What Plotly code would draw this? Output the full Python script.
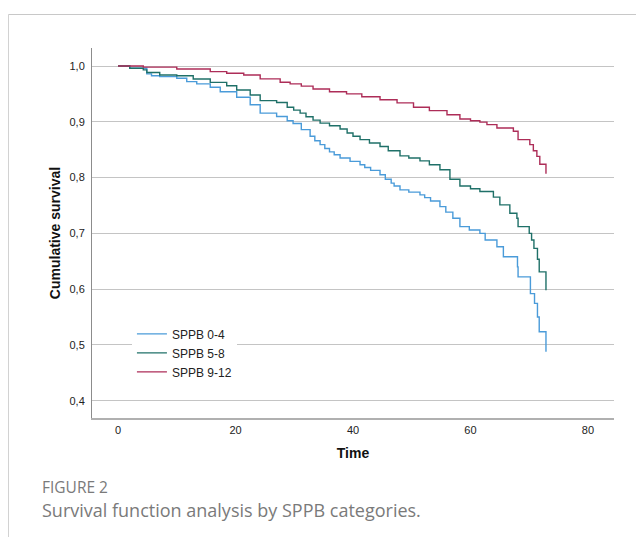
import plotly.graph_objects as go

# ---- data ----
series_names = ["SPPB 0-4", "SPPB 5-8", "SPPB 9-12"]

time_04 = [0, 2.0, 4.9, 5.7, 7.1, 10.0, 11.7, 13.4, 15.7, 17.4, 20.2, 22.5, 24.2, 27.0,
           28.8, 29.8, 31.2, 32.7, 33.5, 34.4, 35.2, 36.0, 36.8, 37.8, 39.5, 41.2, 42.0,
           43.0, 44.6, 45.5, 46.5, 47.0, 48.0, 49.5, 51.4, 52.2, 53.2, 54.8, 55.8, 57.0,
           58.2, 59.8, 61.6, 62.5, 64.5, 65.6, 68.0, 68.1, 70.2, 70.9, 71.4, 71.7, 72.85]
surv_04 = [1.0, 0.996, 0.986, 0.9826, 0.981, 0.978, 0.972, 0.968, 0.962, 0.954, 0.944,
           0.9305, 0.9156, 0.9095, 0.902, 0.897, 0.886, 0.874, 0.866, 0.859, 0.852, 0.846,
           0.841, 0.835, 0.829, 0.823, 0.818, 0.813, 0.805, 0.797, 0.790, 0.785, 0.778,
           0.774, 0.769, 0.764, 0.758, 0.748, 0.738, 0.727, 0.712, 0.706, 0.700, 0.688,
           0.676, 0.658, 0.640, 0.622, 0.592, 0.5745, 0.550, 0.5235, 0.4876]

time_58 = [0, 2.0, 4.3, 4.9, 7.1, 10.0, 12.8, 15.7, 18.5, 20.2, 22.5, 24.2, 27.0, 28.8,
           29.9, 31.0, 32.0, 33.2, 34.4, 36.0, 37.8, 39.0, 40.0, 41.2, 42.8, 44.6, 46.0,
           48.0, 49.5, 51.4, 53.0, 54.8, 56.5, 58.2, 60.0, 61.6, 63.9, 65.0, 66.7, 67.9,
           68.1, 70.0, 70.4, 70.8, 71.4, 71.7, 72.85]
surv_58 = [1.0, 0.996, 0.993, 0.9885, 0.984, 0.9826, 0.9766, 0.9706, 0.9646, 0.957, 0.948,
           0.938, 0.9347, 0.926, 0.921, 0.9156, 0.909, 0.903, 0.8977, 0.893, 0.887, 0.880,
           0.874, 0.868, 0.862, 0.8557, 0.848, 0.839, 0.835, 0.830, 0.823, 0.814, 0.797,
           0.785, 0.780, 0.775, 0.765, 0.751, 0.736, 0.727, 0.712, 0.700, 0.688, 0.673,
           0.6535, 0.631, 0.598]

time_912 = [0, 4.3, 10.0, 15.7, 18.5, 21.4, 24.2, 27.6, 29.3, 31.2, 33.2, 36.0, 38.9,
            41.5, 44.6, 47.5, 50.3, 53.0, 56.0, 58.2, 60.0, 61.6, 62.8, 64.5, 67.3, 68.1,
            70.1, 70.7, 71.3, 71.8, 72.85]
surv_912 = [1.0, 0.998, 0.9946, 0.990, 0.987, 0.984, 0.977, 0.971, 0.968, 0.964, 0.9587,
            0.954, 0.950, 0.945, 0.9395, 0.934, 0.926, 0.920, 0.9126, 0.905, 0.902, 0.8995,
            0.895, 0.889, 0.883, 0.868, 0.859, 0.848, 0.838, 0.824, 0.807]

x_ticks = [0, 20, 40, 60, 80]
y_ticks = [0.4, 0.5, 0.6, 0.7, 0.8, 0.9, 1.0]
y_tick_labels = ["0,4", "0,5", "0,6", "0,7", "0,8", "0,9", "1,0"]

colors = ["#4a9bd9", "#1f7068", "#ad2d58"]

FONT = "Arial, Liberation Sans, sans-serif"
CAP_FONT = "Open Sans, Lato, sans-serif"

fig = go.Figure()
for name, t, s, c in zip(series_names, [time_04, time_58, time_912],
                         [surv_04, surv_58, surv_912], colors):
    fig.add_trace(go.Scatter(x=t, y=s, mode="lines", name=name,
                             line=dict(color=c, width=1.4, shape="hv")))

fig.update_layout(
    width=644, height=537,
    margin=dict(l=84, r=38, t=40, b=127),
    paper_bgcolor="white", plot_bgcolor="white",
    font=dict(family=FONT, color="#222222", size=11),
    showlegend=True,
    legend=dict(x=0.0765, xanchor="left", y=0.176, yanchor="middle",
                bgcolor="white", borderwidth=0,
                font=dict(family=FONT, size=12, color="#222222"),
                tracegroupgap=0),
    xaxis=dict(range=[-4.43, 84.43], tickvals=x_ticks, showgrid=False, zeroline=False,
               showline=True, linecolor="#b0b0b0", linewidth=2, ticks="",
               ticklabelstandoff=1, tickfont=dict(size=11),
               title=dict(text="<b>Time</b>", font=dict(size=14, color="#111111"),
                          standoff=13)),
    yaxis=dict(range=[0.369, 1.0323], tickvals=y_ticks, ticktext=y_tick_labels,
               showgrid=True, gridcolor="#c4c4c4", gridwidth=1, zeroline=False,
               showline=True, linecolor="#8c8c8c", linewidth=1, ticks="",
               ticklabelstandoff=4, tickfont=dict(size=11),
               title=dict(text="<b>Cumulative survival</b>",
                          font=dict(size=14, color="#111111"), standoff=5)),
)

# panel frame lines (figure border)
fig.add_shape(type="line", xref="paper", yref="paper",
              x0=-0.16, x1=1.08, y0=1.0905, y1=1.0905,
              line=dict(color="#c8c8c8", width=1.2))
fig.add_shape(type="line", xref="paper", yref="paper",
              x0=-0.1605, x1=-0.1605, y0=1.0905, y1=-0.35,
              line=dict(color="#c8c8c8", width=1.2))

# caption
fig.add_annotation(text="FIGURE 2", xref="paper", yref="paper",
                   x=-0.0996, y=-0.1865, xanchor="left", yanchor="middle",
                   showarrow=False,
                   font=dict(family=CAP_FONT, size=15.5, color="#7a7a7a"))
fig.add_annotation(text="Survival function analysis by SPPB categories.",
                   xref="paper", yref="paper",
                   x=-0.0996, y=-0.2486, xanchor="left", yanchor="middle",
                   showarrow=False,
                   font=dict(family=CAP_FONT, size=18, color="#7a7a7a"))

fig.write_html("out.html")
